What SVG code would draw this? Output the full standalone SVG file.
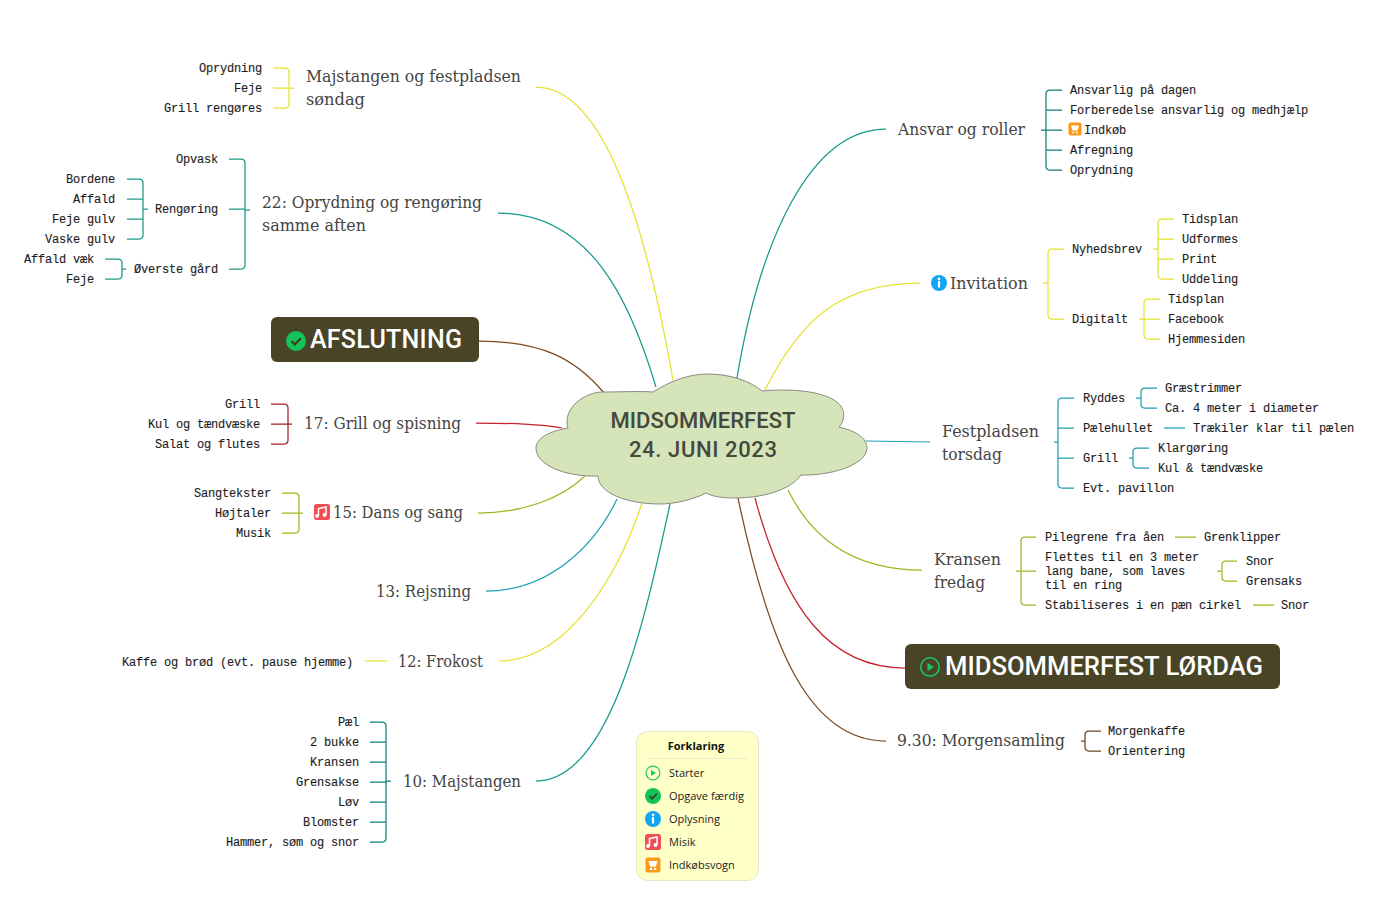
<svg xmlns="http://www.w3.org/2000/svg" xmlns:xlink="http://www.w3.org/1999/xlink" width="1381" height="897" viewBox="0 0 1381 897">
<style>
text{white-space:pre}
.m{font:12px "Liberation Mono","DejaVu Sans Mono",monospace;letter-spacing:-.2px;fill:#1c1c1c;stroke:#1c1c1c;stroke-width:.12}
.e{text-anchor:end}
.t{font:17.5px "DejaVu Serif","Liberation Serif",serif;fill:#444}
.b{font:500 25px Roboto,"Liberation Sans",sans-serif;fill:#fff}
.c{font:500 22px Roboto,"Liberation Sans",sans-serif;fill:#45483c;text-anchor:middle}
.l{font:11px "Open Sans","Liberation Sans",sans-serif;fill:#222}
path{fill:none}
#connectors path{stroke-width:1.25}
.y{stroke:#e6e22e}.g{stroke:#159a8c}.n{stroke:#7a4a20}.r{stroke:#c4202c}.o{stroke:#a5b41e}.s{stroke:#1f9fb4}.d{stroke:#0f7f78}.h{stroke:#6a4520}.a{stroke:#1b9a88}.p{stroke:#a51f2c}
</style>
<defs>
<g id="play"><circle r="9.2" fill="none" stroke="#17c964" stroke-width="1.6"/><path d="M-2.5-4L4 0-2.5 4Z" style="fill:#17c964"/></g>
<g id="check"><circle r="10" fill="#12c457"/><path d="M-4.5 0L-1.2 3.4 4.8-2.8" style="stroke:#3b3b20" stroke-width="2.2"/></g>
<g id="info"><circle r="8" fill="#12a5f5"/><rect x="-1.1" y="-2" width="2.2" height="6.5" fill="#fff"/><circle cy="-4.1" r="1.3" fill="#fff"/></g>
<g id="music"><rect x="-8" y="-8" width="16" height="16" rx="2.5" fill="#ee4f55"/><path d="M-3.5 4V-3.5L4-5V3" style="stroke:#fff" stroke-width="1.5"/><circle cx="-5" cy="4" r="1.9" fill="#fff"/><circle cx="2.5" cy="3" r="1.9" fill="#fff"/></g>
<g id="cart"><rect x="-6.5" y="-6.5" width="13" height="13" rx="2" fill="#fb9a16"/><path d="M-4-3.5H4L2.5 1.5H-2.5Z" style="fill:#fff"/><circle cx="-1.8" cy="3.5" r="1.1" fill="#fff"/><circle cx="1.8" cy="3.5" r="1.1" fill="#fff"/></g>
</defs>
<rect width="1381" height="897" fill="#fff"/>
<g id="connectors">
<path class="y" d="M536 87C610 87 650 250 673 380"/>
<path class="g" d="M498 213C590 213 630 300 656 387"/>
<path class="n" d="M479 341C540 341 575 358 604 393"/>
<path class="r" d="M476 423C510 423 540 424 562 428"/>
<path class="o" d="M478 513C520 513 560 500 585 476"/>
<path class="s" d="M486 591C550 591 595 545 617 499"/>
<path class="y" d="M499 661C570 661 620 570 642 503"/>
<path class="g" d="M536 781C610 781 645 620 670 504"/>
<path class="g" d="M886 129C810 129 760 240 737 378"/>
<path class="y" d="M920 283C840 283 800 320 765 390"/>
<path class="s" d="M930 442L866 441"/>
<path class="o" d="M922 570C860 570 815 545 788 490"/>
<path class="r" d="M905 668C830 668 785 610 755 498"/>
<path class="n" d="M886 741C810 741 770 650 738 498"/>
<path class="d" d="M1062 90H1050Q1046 90 1046 94V166Q1046 170 1050 170H1062M1046 110H1062M1041 130H1062M1046 150H1062"/>
<path class="y" d="M1064 249H1052Q1048 249 1048 253V315Q1048 319 1052 319H1064M1043 283H1048"/>
<path class="y" d="M1174 219H1162Q1158 219 1158 223V275Q1158 279 1162 279H1174M1158 239H1174M1158 259H1174M1153 249H1158"/>
<path class="y" d="M1160 299H1148Q1144 299 1144 303V335Q1144 339 1148 339H1160M1139 319H1160"/>
<path class="s" d="M1074 398H1062Q1058 398 1058 402V484Q1058 488 1062 488H1074M1058 428H1074M1058 458H1074M1054 442H1058"/>
<path class="s" d="M1157 388H1145Q1141 388 1141 392V404Q1141 408 1145 408H1157M1136 398H1141"/>
<path class="s" d="M1164 428H1185"/>
<path class="s" d="M1149 448H1137Q1133 448 1133 452V464Q1133 468 1137 468H1149M1129 458H1133"/>
<path class="o" d="M1036 537H1025Q1021 537 1021 541V601Q1021 605 1025 605H1036M1016 571H1036"/>
<path class="o" d="M1175 537H1196M1253 605H1274"/>
<path class="o" d="M1237 561H1226Q1222 561 1222 565V577Q1222 581 1226 581H1237M1217 571H1222"/>
<path class="h" d="M1101 731H1089Q1085 731 1085 735V747Q1085 751 1089 751H1101M1081 741H1085"/>
<path class="y" d="M273 68H285Q289 68 289 72V104Q289 108 285 108H273M273 88H294"/>
<path class="a" d="M229 159H241Q245 159 245 163V265Q245 269 241 269H229M229 209H245M245 210H250"/>
<path class="a" d="M127 179H139Q143 179 143 183V235Q143 239 139 239H127M127 199H143M127 219H143M143 209H148"/>
<path class="a" d="M105 259H118Q122 259 122 263V275Q122 279 118 279H105M122 269H126"/>
<path class="p" d="M271 404H284Q288 404 288 408V440Q288 444 284 444H271M271 424H292"/>
<path class="o" d="M282 493H295Q299 493 299 497V529Q299 533 295 533H282M282 513H303"/>
<path class="y" d="M365 661H387"/>
<path class="d" d="M370 722H382Q386 722 386 726V838Q386 842 382 842H370M370 742H386M370 762H386M370 782H386M370 802H386M370 822H386M386 781H391"/>
</g>
<g id="center"><path d="M653 392C672 380 690 374 708 374C730 374 750 381 762 391C805 387 850 395 843 420Q842 424 839 427C856 431 867 438 867 448C867 465 830 476 801 475C790 491 760 498 735 498C722 498 714 497 706 493C695 499 675 504 660 504C625 504 598 492 598 476C565 477 536 465 536 448C536 438 550 431 568 428C562 408 585 392 603 392C620 392 640 391 653 392Z" style="fill:#d5e4b9;stroke:#8a8a80;stroke-width:1"/><text class="c" x="703" y="428" textLength="185">MIDSOMMERFEST</text><text class="c" x="703" y="457" textLength="148">24. JUNI 2023</text></g>
<g id="majstangen-sondag"><text class="t" x="306" y="82" textLength="215" lengthAdjust="spacingAndGlyphs">Majstangen og festpladsen</text><text class="t" x="306" y="105" textLength="59" lengthAdjust="spacingAndGlyphs">søndag</text><text class="m e" x="262" y="72">Oprydning</text><text class="m e" x="262" y="92">Feje</text><text class="m e" x="262" y="112">Grill rengøres</text></g>
<g id="oprydning"><text class="t" x="262" y="208" textLength="220" lengthAdjust="spacingAndGlyphs">22: Oprydning og rengøring</text><text class="t" x="262" y="231" textLength="104" lengthAdjust="spacingAndGlyphs">samme aften</text><text class="m e" x="218" y="163">Opvask</text><text class="m e" x="218" y="213">Rengøring</text><text class="m e" x="218" y="273">Øverste gård</text><text class="m e" x="115" y="183">Bordene</text><text class="m e" x="115" y="203">Affald</text><text class="m e" x="115" y="223">Feje gulv</text><text class="m e" x="115" y="243">Vaske gulv</text><text class="m e" x="94" y="263">Affald væk</text><text class="m e" x="94" y="283">Feje</text></g>
<g id="afslutning"><rect x="271" y="317" width="208" height="45" rx="6" fill="#4a4427"/><use xlink:href="#check" href="#check" x="296" y="341"/><text class="b" x="310" y="348" textLength="152">AFSLUTNING</text></g>
<g id="grill"><text class="t" x="304" y="429" textLength="157" lengthAdjust="spacingAndGlyphs">17: Grill og spisning</text><text class="m e" x="260" y="408">Grill</text><text class="m e" x="260" y="428">Kul og tændvæske</text><text class="m e" x="260" y="448">Salat og flutes</text></g>
<g id="dans"><use xlink:href="#music" href="#music" x="322" y="512"/><text class="t" x="333" y="518" textLength="130" lengthAdjust="spacingAndGlyphs">15: Dans og sang</text><text class="m e" x="271" y="497">Sangtekster</text><text class="m e" x="271" y="517">Højtaler</text><text class="m e" x="271" y="537">Musik</text></g>
<g id="rejsning"><text class="t" x="376" y="597" textLength="95" lengthAdjust="spacingAndGlyphs">13: Rejsning</text></g>
<g id="frokost"><text class="t" x="398" y="667" textLength="85" lengthAdjust="spacingAndGlyphs">12: Frokost</text><text class="m e" x="353" y="666">Kaffe og brød (evt. pause hjemme)</text></g>
<g id="majstangen"><text class="t" x="403" y="787" textLength="118" lengthAdjust="spacingAndGlyphs">10: Majstangen</text><text class="m e" x="359" y="726">Pæl</text><text class="m e" x="359" y="746">2 bukke</text><text class="m e" x="359" y="766">Kransen</text><text class="m e" x="359" y="786">Grensakse</text><text class="m e" x="359" y="806">Løv</text><text class="m e" x="359" y="826">Blomster</text><text class="m e" x="359" y="846">Hammer, søm og snor</text></g>
<g id="ansvar"><text class="t" x="898" y="135" textLength="127" lengthAdjust="spacingAndGlyphs">Ansvar og roller</text><text class="m" x="1070" y="94">Ansvarlig på dagen</text><text class="m" x="1070" y="114">Forberedelse ansvarlig og medhjælp</text><use xlink:href="#cart" href="#cart" x="1075" y="129"/><text class="m" x="1084" y="134">Indkøb</text><text class="m" x="1070" y="154">Afregning</text><text class="m" x="1070" y="174">Oprydning</text></g>
<g id="invitation"><use xlink:href="#info" href="#info" x="939" y="283"/><text class="t" x="950" y="289" textLength="78" lengthAdjust="spacingAndGlyphs">Invitation</text><text class="m" x="1072" y="253">Nyhedsbrev</text><text class="m" x="1072" y="323">Digitalt</text><text class="m" x="1182" y="223">Tidsplan</text><text class="m" x="1182" y="243">Udformes</text><text class="m" x="1182" y="263">Print</text><text class="m" x="1182" y="283">Uddeling</text><text class="m" x="1168" y="303">Tidsplan</text><text class="m" x="1168" y="323">Facebook</text><text class="m" x="1168" y="343">Hjemmesiden</text></g>
<g id="festpladsen"><text class="t" x="942" y="437" textLength="97" lengthAdjust="spacingAndGlyphs">Festpladsen</text><text class="t" x="942" y="460" textLength="60" lengthAdjust="spacingAndGlyphs">torsdag</text><text class="m" x="1083" y="402">Ryddes</text><text class="m" x="1083" y="432">Pælehullet</text><text class="m" x="1083" y="462">Grill</text><text class="m" x="1083" y="492">Evt. pavillon</text><text class="m" x="1165" y="392">Græstrimmer</text><text class="m" x="1165" y="412">Ca. 4 meter i diameter</text><text class="m" x="1193" y="432">Trækiler klar til pælen</text><text class="m" x="1158" y="452">Klargøring</text><text class="m" x="1158" y="472">Kul &amp; tændvæske</text></g>
<g id="kransen"><text class="t" x="934" y="565" textLength="67" lengthAdjust="spacingAndGlyphs">Kransen</text><text class="t" x="934" y="588" textLength="51" lengthAdjust="spacingAndGlyphs">fredag</text><text class="m" x="1045" y="541">Pilegrene fra åen</text><text class="m" x="1045" y="561">Flettes til en 3 meter</text><text class="m" x="1045" y="575">lang bane, som laves</text><text class="m" x="1045" y="589">til en ring</text><text class="m" x="1045" y="609">Stabiliseres i en pæn cirkel</text><text class="m" x="1204" y="541">Grenklipper</text><text class="m" x="1246" y="565">Snor</text><text class="m" x="1246" y="585">Grensaks</text><text class="m" x="1281" y="609">Snor</text></g>
<g id="lordag"><rect x="905" y="644" width="375" height="45" rx="6" fill="#4a4427"/><use xlink:href="#play" href="#play" x="930" y="667"/><text class="b" x="945" y="675" textLength="318" lengthAdjust="spacingAndGlyphs">MIDSOMMERFEST LØRDAG</text></g>
<g id="morgensamling"><text class="t" x="897" y="746" textLength="168" lengthAdjust="spacingAndGlyphs">9.30: Morgensamling</text><text class="m" x="1108" y="735">Morgenkaffe</text><text class="m" x="1108" y="755">Orientering</text></g>
<g id="legend"><rect x="636.5" y="731.5" width="122" height="149" rx="11" fill="#ffffc8" stroke="#e6e6c8"/><text class="l" x="696" y="749.500" text-anchor="middle" style="font-weight:700;font-size:11px;fill:#111">Forklaring</text><path d="M646 758.500H748" style="stroke:#ecebc4"/><g transform="translate(653 773) scale(.75)"><use xlink:href="#play" href="#play"/></g><text class="l" x="669" y="777">Starter</text><g transform="translate(653 796) scale(.8)"><use xlink:href="#check" href="#check"/></g><text class="l" x="669" y="800">Opgave færdig</text><g transform="translate(653 819)"><use xlink:href="#info" href="#info"/></g><text class="l" x="669" y="823">Oplysning</text><g transform="translate(653 842)"><use xlink:href="#music" href="#music"/></g><text class="l" x="669" y="846">Misik</text><g transform="translate(653 865) scale(1.15)"><use xlink:href="#cart" href="#cart"/></g><text class="l" x="669" y="869">Indkøbsvogn</text></g>
</svg>
